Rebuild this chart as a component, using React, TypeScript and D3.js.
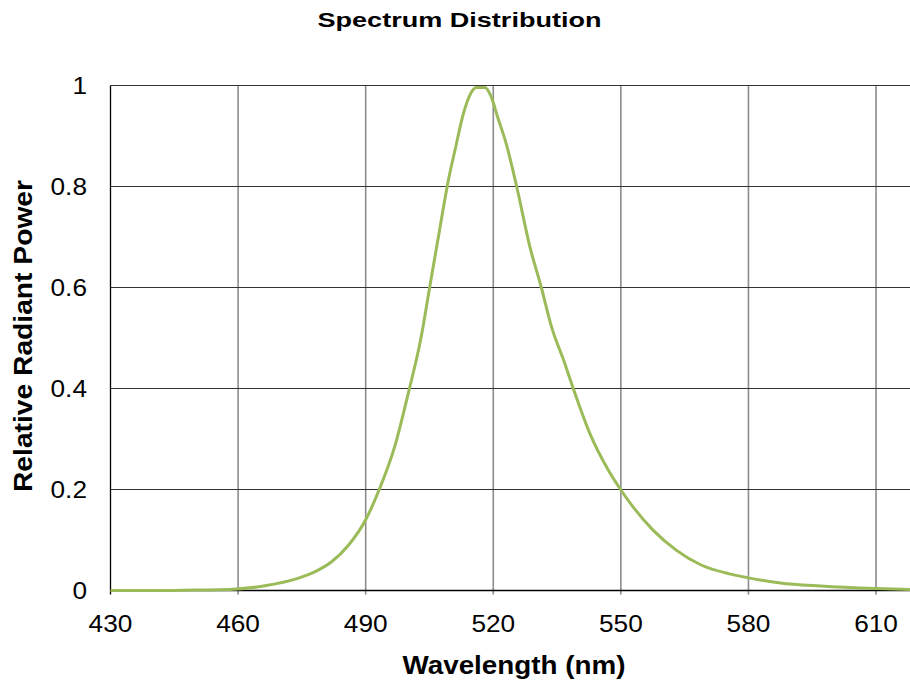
import React, { useEffect, useRef } from 'react';
import * as d3 from 'd3';

// Wavelength (nm) and relative radiant power
const wavelengths = [
  430, 440, 450, 458, 466, 474, 478, 482, 486, 490, 493, 497, 500, 503, 505,
  507.5, 509.5, 511, 513, 514.5, 516, 518, 519.5, 521, 523, 525.5, 528.6,
  531.3, 533.7, 536.8, 538.8, 542.7, 547, 550, 553, 557.5, 563, 569, 575.5,
  580, 587.5, 597, 610, 618, 625,
];
const power = [
  0.0, 0.0, 0.001, 0.002, 0.009, 0.024, 0.037, 0.057, 0.09, 0.14, 0.196,
  0.29, 0.39, 0.5, 0.598, 0.72, 0.815, 0.872, 0.945, 0.981, 0.996, 0.996,
  0.978, 0.938, 0.886, 0.8, 0.681, 0.6, 0.522, 0.45, 0.4, 0.311,
  0.239, 0.199, 0.164, 0.12, 0.08, 0.05, 0.033, 0.025, 0.015, 0.009, 0.004,
  0.002, 0.001,
];
const xTicks = [430, 460, 490, 520, 550, 580, 610];
const yTicks = [0, 0.2, 0.4, 0.6, 0.8, 1];

const WIDTH = 910;
const HEIGHT = 683;
const STRETCH = 1.14; // reference font runs wider than Liberation Sans

export default function App() {
  const svgRef = useRef<SVGSVGElement>(null);

  useEffect(() => {
    if (!svgRef.current) return;
    const svg = d3.select(svgRef.current);
    svg.selectAll('*').remove();

    const x = d3.scaleLinear().domain([430, 620]).range([110.5, 110.5 + 190 * 4.253]);
    const y = d3.scaleLinear().domain([0, 1]).range([590.5, 85.5]);
    const font = 'Liberation Sans, Arial, sans-serif';

    const widen = (sel: d3.Selection<SVGTextElement, any, any, any>, target?: number) => {
      sel.each(function () {
        const w = target ?? this.getComputedTextLength() * STRETCH;
        d3.select(this).attr('textLength', w).attr('lengthAdjust', 'spacingAndGlyphs');
      });
    };

    // vertical grid (gray)
    svg.append('g')
      .selectAll('line')
      .data(xTicks.slice(1))
      .join('line')
      .attr('x1', d => x(d)).attr('x2', d => x(d))
      .attr('y1', y(1)).attr('y2', y(0) + 4)
      .attr('stroke', '#8c8c8c')
      .attr('stroke-width', 1.6);

    // horizontal grid (dark)
    svg.append('g')
      .selectAll('line')
      .data(yTicks.slice(1))
      .join('line')
      .attr('x1', x(430)).attr('x2', x(620))
      .attr('y1', d => y(d)).attr('y2', d => y(d))
      .attr('stroke', '#333')
      .attr('stroke-width', 1.2);

    // axes
    svg.append('line')
      .attr('x1', x(430)).attr('x2', x(620))
      .attr('y1', y(0)).attr('y2', y(0))
      .attr('stroke', '#000').attr('stroke-width', 1.3);
    svg.append('line')
      .attr('x1', x(430)).attr('x2', x(430))
      .attr('y1', y(1)).attr('y2', y(0) + 4)
      .attr('stroke', '#000').attr('stroke-width', 1.3);

    // tick labels
    svg.append('g')
      .selectAll('text')
      .data(xTicks)
      .join('text')
      .attr('x', d => x(d))
      .attr('y', 632)
      .attr('text-anchor', 'middle')
      .attr('font-family', font)
      .attr('font-size', 23)
      .attr('fill', '#000')
      .text(d => String(d))
      .call(widen);

    svg.append('g')
      .selectAll('text')
      .data(yTicks)
      .join('text')
      .attr('x', 87)
      .attr('y', d => y(d) + 8.3)
      .attr('text-anchor', 'end')
      .attr('font-family', font)
      .attr('font-size', 23)
      .attr('fill', '#000')
      .text(d => String(d))
      .call(widen);

    // spectrum curve
    const pts = wavelengths.map((w, i) => [w, power[i]] as [number, number]);
    const line = d3.line<[number, number]>()
      .x(d => x(d[0]))
      .y(d => y(d[1]))
      .curve(d3.curveMonotoneX);
    svg.append('path')
      .datum(pts)
      .attr('fill', 'none')
      .attr('stroke', '#9bbb59')
      .attr('stroke-width', 3)
      .attr('stroke-linejoin', 'round')
      .attr('d', line);

    // titles
    svg.append('text')
      .attr('x', 459.5).attr('y', 27)
      .attr('text-anchor', 'middle')
      .attr('font-family', font)
      .attr('font-size', 21)
      .attr('font-weight', 'bold')
      .text('Spectrum Distribution')
      .call(widen, 284);

    svg.append('text')
      .attr('x', 514).attr('y', 674)
      .attr('text-anchor', 'middle')
      .attr('font-family', font)
      .attr('font-size', 25)
      .attr('font-weight', 'bold')
      .text('Wavelength (nm)')
      .call(widen, 223);

    svg.append('text')
      .attr('transform', 'translate(32,336) rotate(-90)')
      .attr('text-anchor', 'middle')
      .attr('font-family', font)
      .attr('font-size', 25)
      .attr('font-weight', 'bold')
      .text('Relative Radiant Power')
      .call(widen, 312);
  }, []);

  return (
    <div style={{ position: 'absolute', left: 0, top: 0, width: WIDTH, height: HEIGHT, overflow: 'hidden', background: '#fff' }}>
      <svg ref={svgRef} width={WIDTH} height={HEIGHT} style={{ display: 'block' }} />
    </div>
  );
}
